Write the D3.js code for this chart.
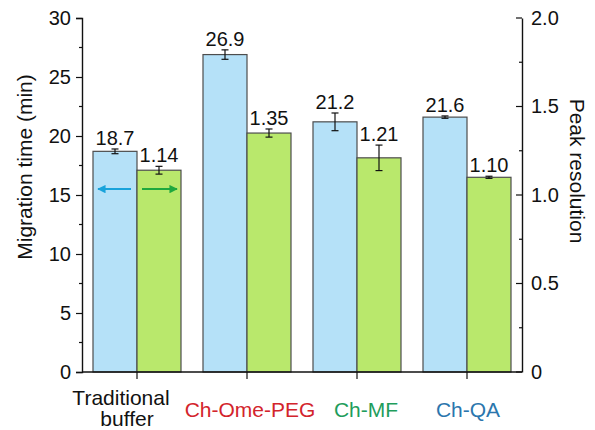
<!DOCTYPE html>
<html>
<head>
<meta charset="utf-8">
<script src="https://cdn.jsdelivr.net/npm/d3@7"></script>
<style>
  html, body { margin: 0; padding: 0; background: #fff; }
  svg { display: block; font-family: "Liberation Sans", Arial, Helvetica, sans-serif; }
</style>
</head>
<body>
<svg id="chart" width="595" height="430"></svg>
<script>
// Buffer systems on the x axis
const categories = ["Traditional buffer", "Ch-Ome-PEG", "Ch-MF", "Ch-QA"];
// Migration time (min), left axis
const migrationTime = [18.7, 26.9, 21.2, 21.6];
const migrationErr = [0.2, 0.4, 0.75, 0.1];
// Peak resolution, right axis
const peakResolution = [1.14, 1.35, 1.21, 1.10];
const resolutionErr = [0.022, 0.023, 0.072, 0.006];
// Tick values
const leftTicks = [0, 5, 10, 15, 20, 25, 30];
const rightTicks = [0, 0.5, 1.0, 1.5, 2.0];
const rightTickLabels = ["0", "0.5", "1.0", "1.5", "2.0"];

// Layout and styling
const W = 595, H = 430;
const margin = { top: 18, right: 73, bottom: 58, left: 82 };
const catColors = ["#111111", "#d3242c", "#1f9d5c", "#2b76ad"];
const catLines = [["Traditional", "buffer"], ["Ch-Ome-PEG"], ["Ch-MF"], ["Ch-QA"]];
const catShift = [[-16, -10], [3], [9], [1]];
const blueFill = "#b5e1f8", greenFill = "#b9e86c", barStroke = "#4d4d4d";

const svg = d3.select("#chart");
const x0 = margin.left, x1 = W - margin.right;
const yTop = margin.top, yBot = H - margin.bottom;

const x = d3.scaleBand().domain(categories).range([x0, x1]).paddingInner(0.2).paddingOuter(0.1);
const sub = d3.scaleBand().domain(["time", "res"]).range([0, x.bandwidth()]);
const yL = d3.scaleLinear().domain([0, 30]).range([yBot, yTop]);
const yR = d3.scaleLinear().domain([0, 2]).range([yBot, yTop]);

// Bars
const g = svg.append("g");
categories.forEach((c, i) => {
  const bx = x(c);
  g.append("rect")
    .attr("x", bx + sub("time")).attr("y", yL(migrationTime[i]))
    .attr("width", sub.bandwidth()).attr("height", yBot - yL(migrationTime[i]))
    .attr("fill", blueFill).attr("stroke", barStroke).attr("stroke-width", 1.2);
  g.append("rect")
    .attr("x", bx + sub("res")).attr("y", yR(peakResolution[i]))
    .attr("width", sub.bandwidth()).attr("height", yBot - yR(peakResolution[i]))
    .attr("fill", greenFill).attr("stroke", barStroke).attr("stroke-width", 1.2);
});

// Error bars and value labels
function errorBar(cx, yHi, yLo) {
  const cap = 3.5;
  g.append("line").attr("x1", cx).attr("x2", cx).attr("y1", yHi).attr("y2", yLo)
    .attr("stroke", "#111").attr("stroke-width", 1.2);
  [yHi, yLo].forEach(yy => g.append("line")
    .attr("x1", cx - cap).attr("x2", cx + cap).attr("y1", yy).attr("y2", yy)
    .attr("stroke", "#111").attr("stroke-width", 1.2));
}
categories.forEach((c, i) => {
  const cxT = x(c) + sub("time") + sub.bandwidth() / 2;
  const cxR = x(c) + sub("res") + sub.bandwidth() / 2;
  errorBar(cxT, yL(migrationTime[i] + migrationErr[i]), yL(migrationTime[i] - migrationErr[i]));
  errorBar(cxR, yR(peakResolution[i] + resolutionErr[i]), yR(peakResolution[i] - resolutionErr[i]));
  g.append("text").attr("x", cxT).attr("y", yL(migrationTime[i] + migrationErr[i]) - 4)
    .attr("text-anchor", "middle").attr("font-size", 20).attr("fill", "#111")
    .text(migrationTime[i].toFixed(1));
  g.append("text").attr("x", cxR).attr("y", yR(peakResolution[i] + resolutionErr[i]) - 4)
    .attr("text-anchor", "middle").attr("font-size", 20).attr("fill", "#111")
    .text(peakResolution[i].toFixed(2));
});

// Arrows showing which axis each bar reads against
const defs = svg.append("defs");
[["arrBlue", "#19a3db"], ["arrGreen", "#1fa83e"]].forEach(([id, col]) => {
  defs.append("marker").attr("id", id).attr("viewBox", "0 0 10 10")
    .attr("refX", 9).attr("refY", 5).attr("markerWidth", 4.2).attr("markerHeight", 4.2)
    .attr("markerUnits", "strokeWidth").attr("orient", "auto")
    .append("path").attr("d", "M0,0 L10,5 L0,10 Z").attr("fill", col);
});
const arrowY = yL(15.5);
const c0 = categories[0];
g.append("line")
  .attr("x1", x(c0) + sub("time") + sub.bandwidth() - 6).attr("x2", x(c0) + sub("time") + 5)
  .attr("y1", arrowY).attr("y2", arrowY)
  .attr("stroke", "#19a3db").attr("stroke-width", 2).attr("marker-end", "url(#arrBlue)");
g.append("line")
  .attr("x1", x(c0) + sub("res") + 5).attr("x2", x(c0) + sub("res") + sub.bandwidth() - 4)
  .attr("y1", arrowY).attr("y2", arrowY)
  .attr("stroke", "#1fa83e").attr("stroke-width", 2).attr("marker-end", "url(#arrGreen)");

// Left axis
const minorL = d3.range(2.5, 30, 5);
const axL = svg.append("g").attr("transform", `translate(${x0},0)`);
axL.call(d3.axisLeft(yL).tickValues(leftTicks).tickSize(6).tickPadding(5).tickFormat(d3.format("d")));
axL.selectAll(".tick").filter(() => false);
minorL.forEach(v => axL.append("line").attr("x1", -3).attr("x2", 0)
  .attr("y1", yL(v)).attr("y2", yL(v)).attr("stroke", "#111").attr("stroke-width", 1.2));

// Right axis (ticks point inward)
const minorR = d3.range(0.25, 2, 0.5);
const axR = svg.append("g").attr("transform", `translate(${x1},0)`);
axR.call(d3.axisRight(yR).tickValues(rightTicks).tickSize(0).tickPadding(9)
  .tickFormat((d, i) => rightTickLabels[i]));
rightTicks.forEach(v => axR.append("line").attr("x1", -6).attr("x2", 0)
  .attr("y1", yR(v)).attr("y2", yR(v)).attr("stroke", "#111").attr("stroke-width", 1.2));
minorR.forEach(v => axR.append("line").attr("x1", -3).attr("x2", 0)
  .attr("y1", yR(v)).attr("y2", yR(v)).attr("stroke", "#111").attr("stroke-width", 1.2));

// Bottom axis
const axB = svg.append("g").attr("transform", `translate(0,${yBot})`);
axB.call(d3.axisBottom(x).tickSize(7).tickFormat(""));
axB.select(".domain").attr("d", `M${x0},0H${x1}`);

[axL, axR, axB].forEach(a => {
  a.select(".domain").attr("stroke", "#111").attr("stroke-width", 1.4);
  a.selectAll(".tick line").attr("stroke", "#111").attr("stroke-width", 1.2);
  a.selectAll(".tick text").attr("font-size", 20).attr("fill", "#111")
    .attr("font-family", "\"Liberation Sans\", Arial, sans-serif");
});

// Category labels
categories.forEach((c, i) => {
  const cx = x(c) + x.bandwidth() / 2;
  const lines = catLines[i];
  const baseY = lines.length === 1 ? 417 : 405;
  lines.forEach((ln, j) => {
    svg.append("text").attr("x", cx + catShift[i][j]).attr("y", baseY + j * 21)
      .attr("text-anchor", "middle").attr("font-size", 21).attr("fill", catColors[i])
      .text(ln);
  });
});

// Axis titles
svg.append("text").attr("transform", "translate(32,167) rotate(-90)")
  .attr("text-anchor", "middle").attr("font-size", 21).attr("fill", "#111")
  .text("Migration time (min)");
svg.append("text").attr("transform", "translate(570,171) rotate(90)")
  .attr("text-anchor", "middle").attr("font-size", 21).attr("fill", "#111")
  .text("Peak resolution");
</script>
</body>
</html>
